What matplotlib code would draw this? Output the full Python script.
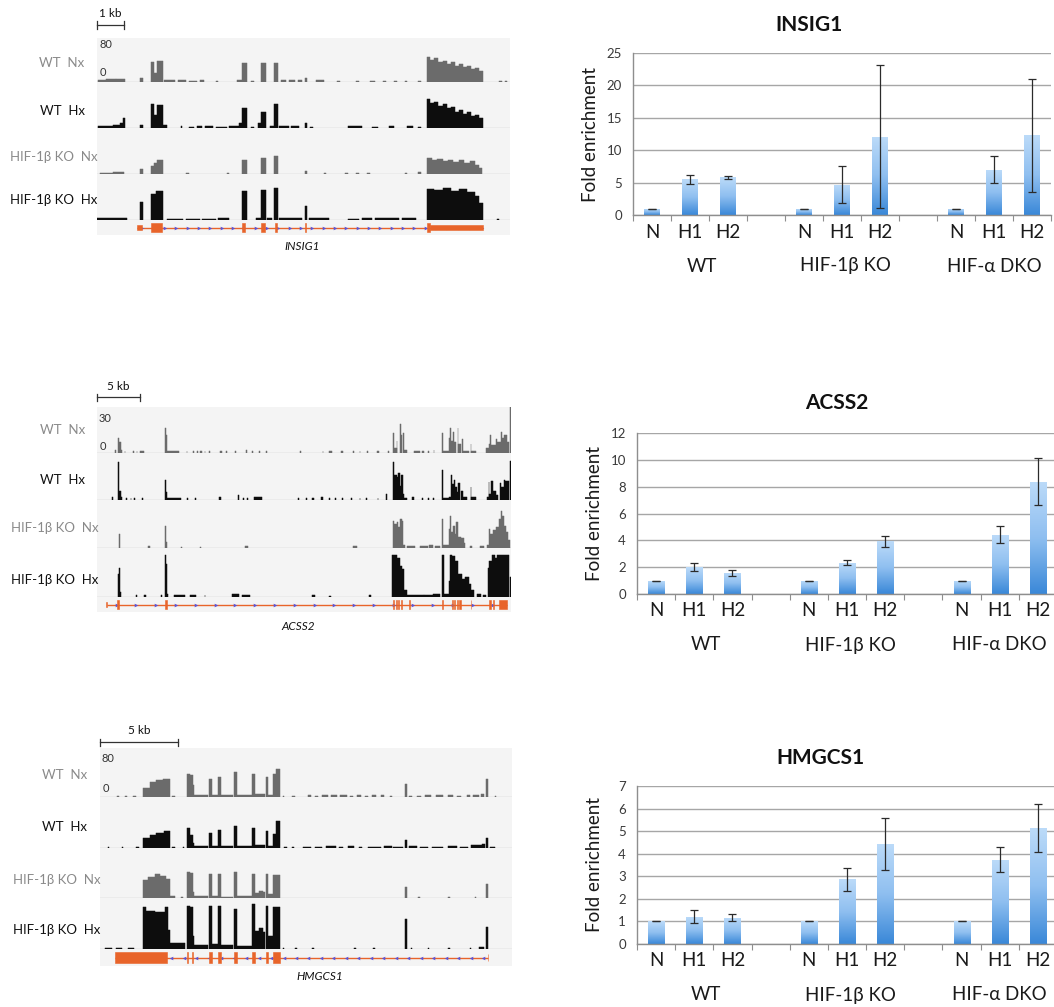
import numpy as np
import matplotlib
matplotlib.use("Agg")
import matplotlib.pyplot as plt
from matplotlib.colors import LinearSegmentedColormap
from matplotlib.transforms import blended_transform_factory

# ---------------------------------------------------------------- data
conditions = ["N", "H1", "H2"]
groups = ["WT", "HIF-1β KO", "HIF-α DKO"]
track_names = ["WT  Nx", "WT  Hx", "HIF-1β KO  Nx", "HIF-1β KO  Hx"]

# ChIP-qPCR fold enrichment (mean, error) in order WT N/H1/H2, KO N/H1/H2, DKO N/H1/H2
insig1_mean = [1.0, 5.5, 5.8, 1.0, 4.7, 12.1, 1.0, 7.0, 12.3]
insig1_err = [0.0, 0.7, 0.28, 0.0, 2.9, 11.0, 0.0, 2.1, 8.7]
acss2_mean = [1.0, 2.0, 1.58, 1.0, 2.33, 3.93, 1.0, 4.42, 8.38]
acss2_err = [0.0, 0.31, 0.21, 0.0, 0.19, 0.43, 0.0, 0.62, 1.72]
hmgcs1_mean = [1.0, 1.21, 1.17, 1.0, 2.86, 4.44, 1.0, 3.74, 5.13]
hmgcs1_err = [0.0, 0.30, 0.15, 0.0, 0.50, 1.16, 0.0, 0.54, 1.07]

# Coverage tracks: (start kb, end kb, signal)
insig1_wt_nx = [
    (0.05, 0.35, 4), (0.35, 0.7, 5), (0.7, 1.04, 6), (1.59, 1.72, 8),
    (1.99, 2.11, 36), (2.11, 2.23, 16), (2.23, 2.46, 38),
    (2.5, 2.9, 3), (3.0, 3.3, 3), (3.4, 3.7, 2), (3.8, 3.95, 3), (4.4, 4.5, 2), (5.2, 5.36, 3),
    (5.36, 5.54, 35), (5.7, 5.8, 2), (6.06, 6.26, 34), (6.56, 6.69, 34),
    (6.8, 7.0, 3), (7.1, 7.35, 4), (7.45, 7.6, 3), (7.7, 7.77, 7), (8.1, 8.4, 3),
    (8.9, 9.0, 1), (9.6, 9.7, 1), (10.1, 10.3, 2), (10.6, 10.7, 1), (11.0, 11.1, 1),
    (11.4, 11.5, 2), (11.9, 12.0, 2),
    (12.21, 12.35, 46), (12.35, 12.5, 40), (12.5, 12.65, 43), (12.65, 12.8, 36),
    (12.8, 12.95, 39), (12.95, 13.1, 33), (13.1, 13.25, 36), (13.25, 13.4, 30),
    (13.4, 13.55, 33), (13.55, 13.7, 27), (13.7, 13.85, 30), (13.85, 14.0, 24),
    (14.0, 14.15, 26), (14.15, 14.31, 20), (14.9, 15.0, 1), (15.1, 15.2, 1),
]
insig1_wt_hx = [
    (0.05, 0.6, 4), (0.6, 0.85, 6), (0.85, 0.95, 9), (0.95, 1.04, 17), (1.59, 1.72, 6),
    (1.99, 2.11, 41), (2.11, 2.23, 22), (2.23, 2.46, 40), (2.46, 2.6, 5),
    (3.1, 3.15, 3), (3.4, 3.6, 2), (3.7, 3.9, 3), (4.0, 4.3, 3), (4.4, 4.8, 2),
    (4.9, 5.25, 3), (5.25, 5.36, 9), (5.36, 5.54, 35), (5.7, 5.8, 2), (5.95, 6.06, 8),
    (6.06, 6.26, 27), (6.4, 6.56, 4), (6.56, 6.69, 41), (6.75, 7.1, 4), (7.2, 7.5, 3),
    (7.7, 7.77, 9), (7.9, 8.0, 2), (9.3, 9.8, 3), (10.2, 10.4, 2), (10.8, 11.0, 3),
    (11.5, 11.7, 3), (11.9, 12.0, 2),
    (12.21, 12.35, 50), (12.35, 12.5, 44), (12.5, 12.65, 46), (12.65, 12.8, 38),
    (12.8, 12.95, 41), (12.95, 13.1, 34), (13.1, 13.25, 36), (13.25, 13.4, 28),
    (13.4, 13.55, 31), (13.55, 13.7, 25), (13.7, 13.85, 27), (13.85, 14.0, 21),
    (14.0, 14.15, 23), (14.15, 14.31, 17),
]
insig1_ko_nx = [
    (0.1, 0.6, 2), (0.6, 1.0, 3), (1.59, 1.72, 8),
    (1.99, 2.11, 14), (2.11, 2.23, 19), (2.23, 2.46, 25),
    (3.3, 3.4, 1), (4.8, 4.9, 1), (5.36, 5.54, 25), (6.06, 6.26, 28), (6.56, 6.69, 32),
    (7.7, 7.77, 6), (8.4, 8.5, 1), (9.2, 9.3, 1), (9.6, 9.7, 1), (10.0, 10.1, 1),
    (11.4, 11.5, 1), (11.9, 12.0, 3),
    (12.21, 12.4, 27), (12.4, 12.6, 25), (12.6, 12.8, 26), (12.8, 13.0, 23),
    (13.0, 13.2, 25), (13.2, 13.4, 21), (13.4, 13.6, 24), (13.6, 13.8, 19),
    (13.8, 14.0, 22), (14.0, 14.15, 16), (14.15, 14.25, 10),
]
insig1_ko_hx = [
    (0.0, 1.1, 4), (1.59, 1.72, 31), (1.99, 2.2, 46), (2.2, 2.46, 50),
    (2.6, 3.2, 2), (3.3, 3.8, 2), (3.9, 4.4, 2), (4.5, 4.9, 3),
    (5.36, 5.54, 50), (5.9, 6.06, 3), (6.06, 6.26, 52), (6.3, 6.5, 3), (6.56, 6.69, 56),
    (6.75, 7.6, 3), (7.7, 7.77, 24), (7.85, 8.6, 3), (9.3, 9.7, 2), (9.8, 10.2, 3),
    (10.3, 11.2, 3), (11.3, 11.8, 3),
    (12.21, 12.5, 54), (12.5, 12.8, 52), (12.8, 13.1, 55), (13.1, 13.4, 51),
    (13.4, 13.7, 54), (13.7, 14.0, 49), (14.0, 14.15, 42), (14.15, 14.31, 30),
    (14.8, 14.9, 1),
]
insig1_gene_span = (1.47, 14.31)
insig1_exons = [(1.47, 1.65, False), (2.0, 2.4, True), (5.38, 5.5, True), (6.07, 6.24, True),
                (6.58, 6.68, True), (7.72, 7.76, True), (12.21, 12.33, True), (12.33, 14.31, False)]

acss2_wt_nx = [
    (2.09, 2.2, 2), (2.45, 2.6, 10), (2.6, 2.75, 7), (2.75, 2.9, 2),
    (3.2, 3.3, 1), (4.2, 4.3, 1.5), (4.6, 4.7, 1), (5.0, 5.5, 1),
    (7.91, 8.05, 16.5), (8.05, 8.18, 12), (8.18, 9.5, 1),
    (10.4, 10.5, 1), (11.2, 11.3, 1.5), (11.6, 11.7, 1), (12.0, 12.2, 1.5), (12.5, 12.6, 1),
    (13.0, 13.1, 1), (14.3, 14.5, 1), (15.0, 15.1, 1), (16.0, 16.1, 1), (17.3, 17.4, 2),
    (18.0, 18.1, 1), (18.8, 18.9, 1), (19.6, 19.7, 1), (23.6, 23.7, 1), (26.2, 26.3, 1),
    (27.0, 27.3, 1), (28.3, 28.6, 1), (29.8, 29.9, 1), (30.5, 30.6, 1), (31.4, 31.5, 1),
    (32.5, 32.8, 1), (33.8, 33.9, 1),
    (34.4, 34.5, 13), (34.5, 34.8, 3), (34.8, 34.9, 8), (35.2, 35.3, 18.6), (35.3, 35.4, 12),
    (35.55, 35.65, 13), (35.65, 36.0, 2), (36.8, 37.5, 1), (37.8, 38.0, 1.5), (38.4, 38.6, 1),
    (39.1, 39.2, 2),
    (40.1, 40.2, 13), (40.2, 40.9, 1.5), (40.9, 41.0, 10), (41.0, 41.15, 16.5), (41.15, 41.4, 8),
    (41.4, 41.5, 14), (41.5, 41.7, 7), (41.9, 42.0, 16), (42.0, 42.3, 6), (42.4, 42.5, 9),
    (42.5, 43.2, 1.5), (43.4, 43.5, 6), (43.5, 44.0, 1.5),
    (45.2, 45.5, 3), (45.5, 45.7, 6), (45.7, 45.8, 12), (45.8, 46.3, 5), (46.3, 46.5, 9),
    (46.5, 46.9, 7), (46.9, 47.05, 14), (47.05, 47.3, 10), (47.3, 47.6, 12), (47.6, 47.9, 7),
    (47.95, 48.05, 30),
]
acss2_wt_hx = [
    (1.7, 1.85, 2), (2.48, 2.6, 24), (2.6, 2.75, 6), (2.75, 2.9, 2),
    (3.4, 3.5, 1), (3.9, 4.0, 1), (4.3, 4.4, 1), (5.2, 5.3, 1),
    (7.91, 8.05, 12.7), (8.05, 8.18, 5), (8.18, 9.8, 1.5),
    (10.5, 10.6, 1), (11.4, 11.5, 1), (14.2, 14.4, 2), (16.4, 16.5, 3), (17.0, 17.1, 1.5),
    (17.4, 17.6, 1.5), (18.2, 19.2, 2),
    (23.4, 23.5, 1.5), (24.3, 24.4, 1.5), (25.0, 25.2, 1.5), (26.0, 26.3, 2), (27.0, 27.1, 1.5),
    (27.6, 27.8, 1.5), (28.5, 28.6, 1.5), (29.5, 29.6, 1.5), (30.5, 30.6, 1), (31.3, 31.4, 1.5),
    (32.6, 32.7, 1.5), (33.6, 33.7, 4),
    (34.4, 34.55, 24), (34.55, 34.8, 16), (34.8, 35.0, 15), (35.0, 35.15, 17), (35.15, 35.3, 9),
    (35.3, 35.5, 16), (35.5, 35.7, 4), (35.7, 36.0, 1.5),
    (36.6, 36.8, 2), (37.8, 37.9, 1.5), (38.5, 38.6, 1.5), (39.0, 39.1, 1.5),
    (40.1, 40.2, 19), (40.2, 40.9, 1.5), (40.9, 41.1, 2), (41.1, 41.2, 16), (41.2, 41.5, 10),
    (41.5, 41.65, 13), (41.65, 41.8, 8), (41.8, 42.0, 5), (42.0, 42.2, 11), (42.3, 42.5, 6),
    (42.5, 43.0, 2), (43.4, 43.5, 8.5), (43.5, 44.0, 2),
    (45.3, 45.5, 2), (45.5, 45.6, 11.6), (45.6, 45.8, 4), (45.8, 46.0, 12), (46.0, 46.3, 6),
    (46.3, 46.6, 3), (46.8, 46.9, 11), (46.9, 47.3, 8), (47.3, 47.45, 13), (47.45, 47.9, 12),
    (47.95, 48.05, 25),
]
acss2_ko_nx = [
    (2.5, 2.65, 8.5), (5.9, 6.1, 1), (7.91, 8.05, 13.7), (8.05, 8.18, 4),
    (9.8, 9.9, 0.7), (12.0, 12.1, 0.7), (17.2, 17.6, 1), (29.7, 30.2, 1),
    (34.4, 34.5, 17), (34.5, 34.8, 15), (34.8, 34.95, 16), (34.95, 35.2, 13), (35.2, 35.4, 18),
    (35.4, 35.6, 17), (35.6, 35.8, 2),
    (36.0, 37.0, 1), (37.5, 38.5, 1.5), (38.6, 39.0, 2), (39.3, 39.9, 1.5),
    (40.1, 40.2, 18), (40.2, 40.9, 2), (40.9, 41.0, 12), (41.0, 41.15, 20), (41.15, 41.4, 10),
    (41.4, 41.55, 14), (41.55, 41.7, 9), (41.7, 42.0, 16), (42.0, 42.3, 7), (42.3, 42.6, 6),
    (42.6, 42.7, 3), (43.3, 43.6, 1), (44.5, 45.0, 1),
    (45.3, 45.5, 2), (45.5, 45.7, 11.6), (45.7, 46.0, 9), (46.0, 46.3, 11), (46.3, 46.7, 13),
    (46.7, 46.9, 18), (46.9, 47.1, 23), (47.1, 47.3, 20), (47.3, 47.5, 14), (47.5, 47.8, 10),
    (47.8, 48.0, 5),
]
acss2_ko_hx = [
    (2.45, 2.55, 14), (2.55, 2.7, 18), (2.7, 2.8, 3),
    (4.5, 4.6, 1), (5.5, 5.7, 1), (7.4, 7.5, 1),
    (7.91, 8.05, 26), (8.05, 8.18, 20), (8.18, 8.3, 2),
    (9.0, 10.2, 1.2), (10.8, 11.5, 1), (12.5, 12.6, 1), (15.7, 16.5, 2), (16.8, 17.8, 1.5),
    (25.0, 25.3, 1), (27.0, 27.2, 0.7), (31.6, 31.8, 1),
    (34.3, 34.9, 26), (34.9, 35.2, 24), (35.2, 35.4, 19), (35.4, 35.7, 17), (35.7, 36.0, 4),
    (36.0, 38.0, 1.5), (38.0, 39.0, 1), (39.0, 39.9, 2),
    (40.1, 40.3, 26), (40.3, 40.9, 2), (40.9, 41.0, 10), (41.0, 41.3, 26), (41.3, 41.6, 25),
    (41.6, 42.0, 22), (42.0, 42.4, 14), (42.4, 42.8, 11), (42.8, 43.2, 12), (43.2, 43.4, 8),
    (43.4, 43.8, 4), (44.1, 44.6, 2), (44.9, 45.2, 1),
    (45.4, 45.6, 18), (45.6, 45.9, 22), (45.9, 46.2, 26), (46.2, 46.5, 24), (46.5, 47.9, 26),
    (47.95, 48.05, 12),
]
acss2_gene_span = (1.12, 47.6)
acss2_exons = [(1.1, 1.16, False), (2.3, 2.55, True), (7.95, 8.1, True),
               (34.4, 34.5, True), (34.7, 34.8, True), (35.0, 35.1, True), (35.3, 35.45, True),
               (36.3, 36.4, True), (40.1, 40.25, True), (41.2, 41.35, True), (41.5, 41.6, True),
               (41.8, 41.95, True), (42.1, 42.3, True), (43.4, 43.5, True), (45.6, 45.75, True),
               (46.0, 46.15, True), (46.7, 47.6, True)]

hmgcs1_wt_nx = [
    (1.1, 1.2, 1), (1.6, 1.7, 1), (2.1, 2.3, 1),
    (2.78, 3.2, 15), (3.2, 3.6, 24), (3.6, 4.06, 27), (4.06, 4.49, 29), (4.6, 4.8, 2),
    (5.56, 5.77, 38), (5.77, 5.94, 36), (5.94, 6.03, 20), (6.03, 6.94, 4),
    (7.01, 7.16, 30), (7.16, 7.59, 3), (7.59, 7.74, 32), (7.74, 8.55, 3),
    (8.61, 8.76, 41), (8.76, 9.72, 3), (9.76, 9.94, 37), (9.94, 10.58, 5),
    (10.64, 10.79, 33), (10.79, 11.11, 4), (11.11, 11.3, 38), (11.3, 11.54, 45),
    (11.7, 11.8, 2), (12.3, 12.5, 2), (13.3, 13.5, 3), (13.8, 14.0, 2), (14.2, 14.6, 3),
    (14.8, 15.2, 3), (15.4, 15.8, 3), (16.0, 16.2, 2), (16.5, 16.7, 3), (17.0, 17.2, 2),
    (17.4, 17.7, 3), (18.0, 18.2, 3), (18.6, 18.7, 2), (19.55, 19.68, 21),
    (19.8, 20.0, 2), (20.3, 20.6, 2), (20.8, 21.2, 3), (21.5, 22.0, 3), (22.3, 22.6, 3),
    (22.9, 23.1, 2), (23.5, 23.7, 3), (23.9, 24.3, 4), (24.4, 24.6, 5), (24.74, 24.84, 30),
    (25.3, 25.4, 1),
]
hmgcs1_wt_hx = [
    (0.5, 0.6, 1), (1.4, 1.5, 1), (2.3, 2.4, 1), (2.4, 2.5, 2),
    (2.78, 3.2, 15), (3.2, 3.6, 20), (3.6, 4.1, 23), (4.1, 4.49, 27), (4.6, 4.8, 2), (5.3, 5.4, 2),
    (5.56, 5.77, 31), (5.77, 5.94, 20), (5.94, 6.03, 8), (6.03, 6.94, 3),
    (7.01, 7.16, 23), (7.16, 7.59, 3), (7.59, 7.74, 28), (7.74, 8.55, 3),
    (8.61, 8.76, 35), (8.76, 9.72, 3), (9.76, 9.94, 31), (9.94, 10.58, 4),
    (10.64, 10.79, 26), (10.79, 11.11, 3), (11.11, 11.3, 22), (11.3, 11.54, 42),
    (11.8, 12.0, 2), (12.3, 12.4, 1), (13.0, 13.5, 2), (13.8, 14.2, 2), (14.5, 15.1, 3),
    (15.3, 15.6, 2), (15.9, 16.3, 3), (16.6, 16.8, 1), (17.2, 18.0, 2), (18.2, 18.7, 3),
    (18.8, 19.4, 2), (19.55, 19.68, 12), (19.8, 20.3, 3), (20.5, 21.0, 2), (21.3, 22.0, 2),
    (22.3, 22.9, 3), (23.1, 23.6, 2), (23.8, 24.5, 4), (24.5, 24.7, 7), (24.74, 24.84, 15),
    (25.0, 25.3, 2),
]
hmgcs1_ko_nx = [
    (2.78, 3.1, 29), (3.1, 3.5, 34), (3.5, 3.85, 39), (3.85, 4.2, 35), (4.2, 4.49, 31),
    (4.49, 4.81, 3), (5.2, 5.3, 1),
    (5.56, 5.77, 42), (5.77, 5.94, 40), (5.94, 6.03, 10), (6.03, 6.94, 3),
    (7.01, 7.16, 39), (7.16, 7.59, 3), (7.59, 7.74, 39), (7.74, 8.55, 2),
    (8.61, 8.76, 42), (8.76, 9.72, 3), (9.76, 9.94, 39), (9.94, 10.2, 8), (10.2, 10.45, 12),
    (10.45, 10.58, 9), (10.64, 10.79, 39), (10.79, 11.11, 6), (11.11, 11.54, 37),
    (19.55, 19.68, 18), (20.4, 20.5, 1), (22.3, 22.4, 1), (24.0, 24.1, 1), (24.74, 24.84, 23),
]
hmgcs1_ko_hx = [
    (0.3, 0.8, 2), (1.0, 1.4, 2), (1.8, 2.2, 2),
    (2.78, 2.95, 66), (2.95, 3.5, 60), (3.5, 4.17, 58), (4.17, 4.38, 66), (4.38, 4.49, 30),
    (4.49, 5.45, 10), (5.56, 5.77, 68), (5.77, 5.94, 66), (5.94, 6.03, 20), (6.03, 6.94, 7),
    (7.01, 7.16, 68), (7.16, 7.59, 8), (7.59, 7.74, 68), (7.74, 8.55, 7),
    (8.61, 8.76, 63), (8.76, 9.72, 5), (9.76, 9.94, 71), (9.94, 10.2, 28), (10.2, 10.45, 33),
    (10.45, 10.58, 26), (10.64, 10.79, 68), (10.79, 11.11, 20), (11.11, 11.54, 66),
    (11.7, 11.8, 2), (12.5, 12.6, 2), (13.6, 13.7, 1), (16.3, 16.4, 1), (17.5, 17.6, 1),
    (19.55, 19.68, 47), (19.9, 20.0, 2), (21.0, 21.1, 1), (22.3, 22.4, 1), (23.7, 23.8, 2),
    (24.3, 24.6, 3), (24.74, 24.84, 34),
]
hmgcs1_gene_span = (0.96, 24.89)
hmgcs1_exons = [(0.96, 4.27, True), (5.56, 5.66, True), (5.88, 5.98, True), (7.01, 7.16, True),
                (7.59, 7.74, True), (8.61, 8.76, True), (9.76, 9.94, True), (10.64, 10.79, True),
                (11.11, 11.54, True), (24.84, 24.89, False)]

# ---------------------------------------------------------------- style
W, H = 1054, 1007
plt.rcParams['font.family'] = ['Lato', 'DejaVu Sans']
fig = plt.figure(figsize=(W / 100, H / 100), dpi=100)

track_bg = '#f4f4f4'
track_colors = ['#6b6b6b', '#0d0d0d', '#6b6b6b', '#0d0d0d']
label_colors = ['#8a8a8a', '#111111', '#8a8a8a', '#111111']
gene_orange = '#e8642a'
chevron_blue = '#5b55d6'
bar_cmap = LinearSegmentedColormap.from_list('bar', ['#3a88d8', '#8fbff0', '#bcdbf9'])
gradient = np.linspace(0, 1, 200).reshape(-1, 1)
slot_positions = [0, 1, 2, 4, 5, 6, 8, 9, 10]
group_positions = [1.3, 5.1, 9.0]


def axes_px(x0, y0, x1, y1):
    return fig.add_axes([x0 / W, 1 - y1 / H, (x1 - x0) / W, (y1 - y0) / H])


def text_px(x, y, s, **kw):
    fig.text(x / W, 1 - y / H, s, **kw)


def enrichment_chart(box, title, title_xy, means, errs, ymax, ystep):
    ax = axes_px(*box)
    bars = ax.bar(slot_positions, means, width=0.42, color='none', linewidth=0, zorder=2)
    for b in bars:
        bx, by, bw, bh = b.get_x(), b.get_y(), b.get_width(), b.get_height()
        im = ax.imshow(gradient, cmap=bar_cmap, extent=(bx, bx + bw, by, by + bh),
                       origin='lower', aspect='auto', interpolation='bilinear', zorder=2)
        im.set_clip_path(b)
    ax.errorbar(slot_positions, means, yerr=errs, fmt='none', ecolor='#2b2b2b',
                elinewidth=0.9, capsize=3.0, capthick=0.9, zorder=3)
    ax.set_xlim(-0.5, 10.5)
    ax.set_ylim(0, ymax)
    ax.set_yticks(np.arange(0, ymax + 0.01, ystep))
    ax.yaxis.grid(True, color='#a6a6a6', linewidth=1.0)
    ax.set_axisbelow(True)
    ax.set_facecolor('none')
    for s in ('top', 'right'):
        ax.spines[s].set_visible(False)
    for s in ('left', 'bottom'):
        ax.spines[s].set_color('#8e8e8e')
        ax.spines[s].set_linewidth(1.0)
    ax.set_xticks(np.arange(-0.5, 10.6, 1.0))
    ax.set_xticklabels([])
    ax.tick_params(axis='x', length=4, color='#8e8e8e', width=0.8)
    ax.tick_params(axis='y', length=0, labelsize=9.5, labelcolor='#3a3a3a', pad=8)
    for pos, lab in zip(slot_positions, conditions * 3):
        ax.annotate(lab, (pos, 0), xycoords=('data', 'axes fraction'), xytext=(0, -17),
                    textcoords='offset pixels', ha='center', va='center',
                    fontsize=13.5, color='#1a1a1a')
    for pos, lab in zip(group_positions, groups):
        ax.annotate(lab, (pos, 0), xycoords=('data', 'axes fraction'), xytext=(0, -51),
                    textcoords='offset pixels', ha='center', va='center',
                    fontsize=13.5, color='#1a1a1a')
    ax.annotate('Fold enrichment', (0, 0.5), xycoords='axes fraction', xytext=(-43, 0),
                textcoords='offset pixels', ha='center', va='center', rotation=90,
                fontsize=13.5, color='#1a1a1a')
    text_px(title_xy[0], title_xy[1], title, ha='center', va='center',
            fontsize=15, fontweight='bold', color='#111111')


def genome_panel(x0, x1, rows, gene_row, kb_len, ymax, range_ys, tracks,
                 label_pos, scale_kb, scale_text, scale_y,
                 gene_span, exons, chevron, chevron_step, gene_name, gene_name_xy):
    axes = []
    for (ya, yb), data, color in zip(rows, tracks, track_colors):
        ax = axes_px(x0, ya, x1, yb)
        starts = [d[0] for d in data]
        widths = [d[1] - d[0] for d in data]
        heights = [d[2] for d in data]
        ax.bar(starts, heights, width=widths, align='edge', color=color,
               edgecolor=color, linewidth=0.35)
        ax.axhline(0, color='#b3b3b3', lw=0.9, zorder=0.5)
        ax.set_xlim(0, kb_len)
        ax.set_ylim(0, ymax)
        ax.set_facecolor(track_bg)
        ax.set_xticks([])
        ax.set_yticks([])
        for sp in ax.spines.values():
            sp.set_visible(False)
        axes.append(ax)

    # data range labels on the first track
    text_px(x0 + 2, range_ys[0], str(ymax), fontsize=8, color='#333333', ha='left', va='center')
    text_px(x0 + 3, range_ys[1], '0', fontsize=8, color='#333333', ha='left', va='center')

    # track names
    for name, (lx, ly), c in zip(track_names, label_pos, label_colors):
        text_px(lx, ly, name, fontsize=9.5, color=c, ha='center', va='center')

    # scale bar
    tr = blended_transform_factory(axes[0].transData, fig.transFigure)
    yf = 1 - scale_y / H
    tick = 3.5 / H
    axes[0].plot([0, scale_kb], [yf, yf], color='#333333', lw=0.9, transform=tr, clip_on=False)
    for xk in (0, scale_kb):
        axes[0].plot([xk, xk], [yf - tick, yf + tick], color='#333333', lw=0.9,
                     transform=tr, clip_on=False)
    axes[0].text(scale_kb / 2, yf + 11 / H, scale_text, transform=tr, ha='center',
                 va='center', fontsize=8.5, color='#111111')

    # gene model
    gx = axes_px(x0, gene_row[0], x1, gene_row[1])
    gx.set_xlim(0, kb_len)
    gx.set_ylim(-1, 1)
    gx.set_facecolor(track_bg)
    gx.set_xticks([])
    gx.set_yticks([])
    for sp in gx.spines.values():
        sp.set_visible(False)
    gx.plot(gene_span, [0, 0], color=gene_orange, lw=1.0, solid_capstyle='butt')
    marks = np.arange(gene_span[0] + chevron_step / 2, gene_span[1], chevron_step)
    gx.plot(marks, np.zeros_like(marks), ls='none', marker=chevron, ms=2.6,
            color=chevron_blue, mew=0)
    ex_s = [e[0] for e in exons]
    ex_w = [e[1] - e[0] for e in exons]
    ex_h = [1.3 if e[2] else 0.75 for e in exons]
    gx.bar(ex_s, ex_h, width=ex_w, bottom=[-h / 2 for h in ex_h], align='edge',
           color=gene_orange, edgecolor=gene_orange, linewidth=0.4, zorder=3)
    text_px(gene_name_xy[0], gene_name_xy[1], gene_name, fontsize=8.5, style='italic',
            color='#111111', ha='center', va='center')


# ---------------------------------------------------------------- left: coverage tracks
genome_panel(97, 510, [(38, 82), (82, 128), (128, 174), (174, 220)], (220, 235), 15.3, 80,
             (45, 72), [insig1_wt_nx, insig1_wt_hx, insig1_ko_nx, insig1_ko_hx],
             [(62, 63), (62, 111), (54, 157), (54, 200)], 1.0, '1 kb', 25,
             insig1_gene_span, insig1_exons, '>', 0.42, 'INSIG1', (302, 247))

genome_panel(97, 511, [(407, 453), (453, 500), (500, 548), (548, 597)], (597, 612), 48.1, 30,
             (418, 447), [acss2_wt_nx, acss2_wt_hx, acss2_ko_nx, acss2_ko_hx],
             [(63, 430), (62, 480), (55, 528), (55, 580)], 5.0, '5 kb', 397,
             acss2_gene_span, acss2_exons, '>', 2.3, 'ACSS2', (298, 627))

genome_panel(100, 512, [(748, 797), (797, 848), (848, 898), (898, 949)], (949, 966), 26.4, 80,
             (759, 788), [hmgcs1_wt_nx, hmgcs1_wt_hx, hmgcs1_ko_nx, hmgcs1_ko_hx],
             [(65, 775), (65, 827), (57, 880), (57, 930)], 5.0, '5 kb', 742,
             hmgcs1_gene_span, hmgcs1_exons, '<', 0.8, 'HMGCS1', (320, 977))

# ---------------------------------------------------------------- right: ChIP-qPCR
enrichment_chart((633, 53, 1051, 215), 'INSIG1', (809, 25), insig1_mean, insig1_err, 25, 5)
enrichment_chart((637, 433, 1057, 594), 'ACSS2', (837, 403), acss2_mean, acss2_err, 12, 2)
enrichment_chart((637, 786, 1057, 944), 'HMGCS1', (820, 758), hmgcs1_mean, hmgcs1_err, 7, 1)

fig.savefig('out.png', dpi=100, facecolor='white')
